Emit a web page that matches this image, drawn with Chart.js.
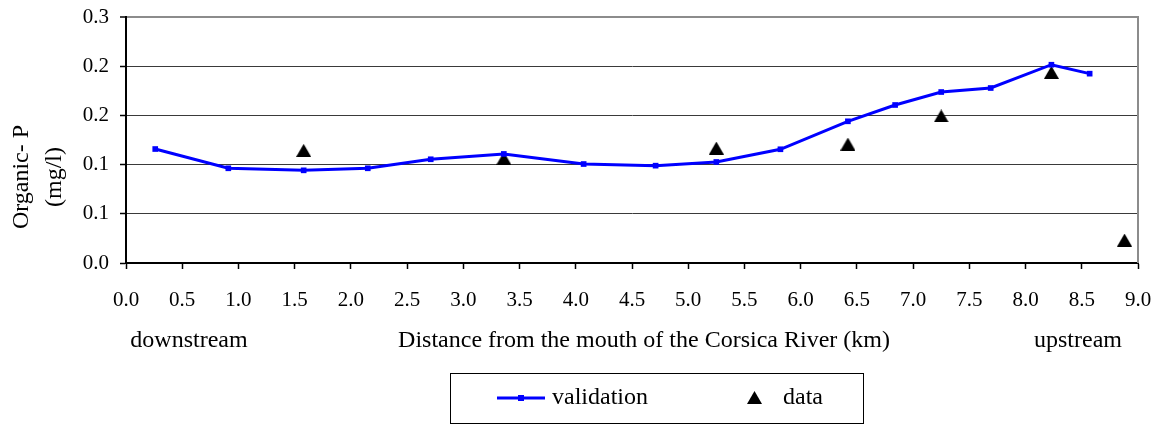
<!DOCTYPE html>
<html>
<head>
<meta charset="utf-8">
<script src="https://cdn.jsdelivr.net/npm/chart.js@4"></script>
<style>
    html, body { margin: 0; background: #fff; }
    canvas { display: block; }
</style>
</head>
<body>
<canvas id="chart" width="1160" height="427"></canvas>
<script>
// Données (distance en km, Organic-P en mg/l)
const distValidation = [0.26, 0.91, 1.58, 2.15, 2.71, 3.36, 4.07, 4.71, 5.25, 5.82, 6.42, 6.84, 7.25, 7.69, 8.23, 8.57];
const valValidation = [0.139, 0.1155, 0.113, 0.1155, 0.1265, 0.133, 0.1207, 0.1187, 0.1232, 0.1387, 0.1728, 0.1927, 0.2085, 0.2134, 0.2418, 0.2309];
const distData = [1.58, 3.36, 5.25, 6.42, 7.25, 8.23, 8.88];
const valData = [0.1374, 0.1277, 0.1402, 0.1451, 0.1793, 0.2325, 0.028];

// Libellés des axes (arrondis comme dans l'original, pas de 0.06)
const yStep = 0.06;
const yTickLabels = ['0.0', '0.1', '0.1', '0.2', '0.2', '0.3'];
const xTitle = 'Distance from the mouth of the Corsica River (km)';
const yTitle = ['Organic- P', '(mg/l)'];
const leftNote = 'downstream';
const rightNote = 'upstream';
const seriesNames = ['validation', 'data'];

const FONT = '"Liberation Serif", "Times New Roman", serif';

// Marqueur triangle noir (centré sur sa boîte, comme Excel)
function makeTriangle(w, h) {
    const c = document.createElement('canvas');
    c.width = w;
    c.height = h;
    const ctx = c.getContext('2d');
    ctx.fillStyle = '#000';
    ctx.beginPath();
    ctx.moveTo(w / 2, 0);
    ctx.lineTo(w, h);
    ctx.lineTo(0, h);
    ctx.closePath();
    ctx.fill();
    return c;
}
const triangle = makeTriangle(15, 13);

// Textes, bordure droite et légende encadrée
const decorPlugin = {
    id: 'decor',
    afterDraw(chart) {
        const ctx = chart.ctx;
        const area = chart.chartArea;
        ctx.save();

        // bordure droite grise
        ctx.strokeStyle = '#8c8c8c';
        ctx.lineWidth = 2;
        ctx.beginPath();
        ctx.moveTo(area.right, area.top - 1);
        ctx.lineTo(area.right, area.bottom);
        ctx.stroke();

        ctx.fillStyle = '#000';
        ctx.font = '24px ' + FONT;
        ctx.textBaseline = 'alphabetic';

        // titre de l'axe Y (deux lignes, tourné)
        ctx.save();
        ctx.translate(0, 177);
        ctx.rotate(-Math.PI / 2);
        ctx.textAlign = 'center';
        ctx.fillText(yTitle[0], 0, 28);
        ctx.fillText(yTitle[1], 0, 61);
        ctx.restore();

        // titre de l'axe X et notes
        ctx.textAlign = 'center';
        ctx.fillText(leftNote, 189, 347);
        ctx.fillText(xTitle, 644, 347);
        ctx.fillText(rightNote, 1078, 347);

        // légende
        ctx.strokeStyle = '#000';
        ctx.lineWidth = 1;
        ctx.strokeRect(450.5, 373.5, 413, 50);

        const ly = 398;
        const ds0 = chart.data.datasets[0];
        ctx.strokeStyle = ds0.borderColor;
        ctx.lineWidth = 3;
        ctx.beginPath();
        ctx.moveTo(497, ly);
        ctx.lineTo(545, ly);
        ctx.stroke();
        ctx.fillStyle = ds0.borderColor;
        ctx.fillRect(518, ly - 3, 6, 6);

        ctx.drawImage(triangle, 747, ly - 7);

        ctx.fillStyle = '#000';
        ctx.textAlign = 'left';
        ctx.textBaseline = 'middle';
        ctx.fillText(seriesNames[0], 552, ly);
        ctx.fillText(seriesNames[1], 783, ly);

        ctx.restore();
    }
};

const canvas = document.getElementById('chart');
new Chart(canvas, {
    type: 'scatter',
    data: {
        datasets: [
            {
                label: seriesNames[0],
                data: distValidation.map((d, i) => ({ x: d, y: valValidation[i] })),
                showLine: true,
                borderColor: '#0000ff',
                backgroundColor: '#0000ff',
                borderWidth: 3,
                pointStyle: 'rect',
                pointRadius: 4,
                pointBorderWidth: 0,
                tension: 0,
            },
            {
                label: seriesNames[1],
                data: distData.map((d, i) => ({ x: d, y: valData[i] })),
                showLine: false,
                pointStyle: triangle,
                pointRadius: 8,
            },
        ],
    },
    options: {
        responsive: false,
        animation: false,
        events: [],
        layout: {
            autoPadding: false,
            padding: { top: 17, right: 22, bottom: 0, left: 0 },
        },
        plugins: {
            legend: { display: false },
            tooltip: { enabled: false },
        },
        scales: {
            x: {
                type: 'linear',
                min: 0,
                max: 9,
                afterFit(scale) {
                    scale.height = 164;
                    scale.paddingLeft = 0;
                    scale.paddingRight = 0;
                },
                ticks: {
                    stepSize: 0.5,
                    autoSkip: false,
                    maxRotation: 0,
                    padding: 19,
                    color: '#000',
                    font: { family: FONT, size: 21 },
                    callback: v => v.toFixed(1),
                },
                grid: {
                    drawOnChartArea: false,
                    drawTicks: true,
                    tickLength: 6,
                    tickColor: '#000',
                    tickWidth: 1.5,
                },
                border: { color: '#000', width: 2 },
            },
            y: {
                type: 'linear',
                min: 0,
                max: 0.3,
                afterFit(scale) {
                    scale.width = 126;
                    scale.paddingTop = 0;
                    scale.paddingBottom = 0;
                },
                afterBuildTicks(scale) {
                    scale.ticks = yTickLabels.map((t, i) => ({ value: i * yStep }));
                },
                ticks: {
                    padding: 11,
                    color: '#000',
                    font: { family: FONT, size: 21 },
                    callback: (v, i) => yTickLabels[i],
                },
                grid: {
                    color: ctx => (ctx.index === yTickLabels.length - 1 ? '#8c8c8c' : '#3a3a3a'),
                    lineWidth: ctx => (ctx.index === yTickLabels.length - 1 ? 2 : 1),
                    drawTicks: true,
                    tickLength: 6,
                    tickColor: '#000',
                    tickWidth: 1.5,
                },
                border: { color: '#000', width: 2 },
            },
        },
    },
    plugins: [decorPlugin],
});
</script>
</body>
</html>
